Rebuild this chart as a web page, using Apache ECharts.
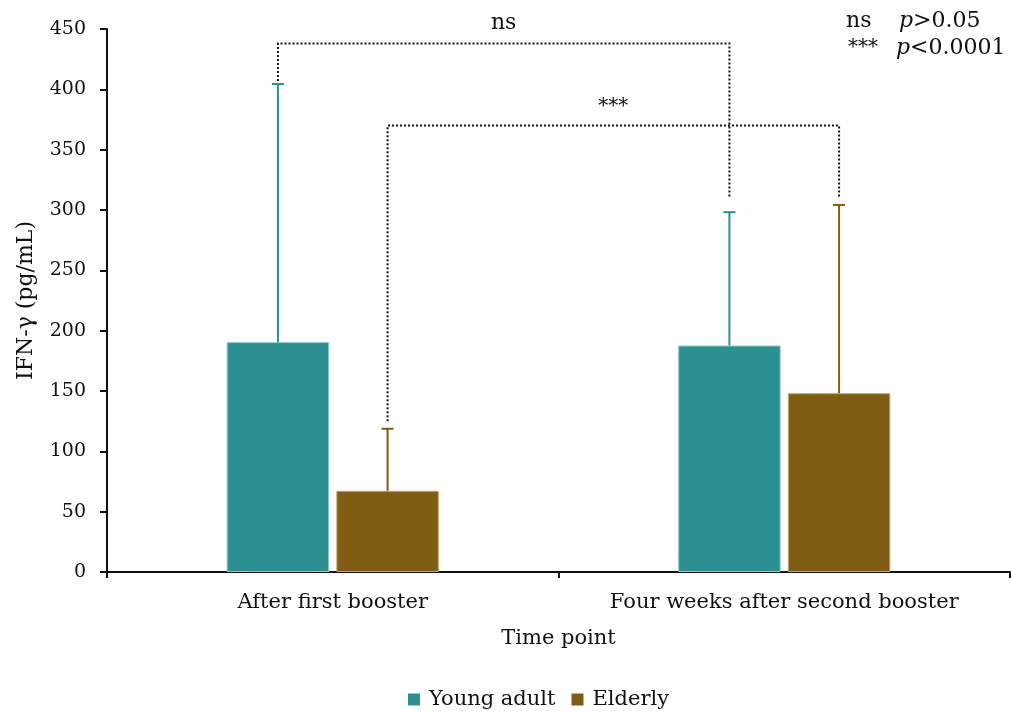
<!DOCTYPE html>
<html>
<head>
<meta charset="utf-8">
<script src="https://cdn.jsdelivr.net/npm/echarts@6/dist/echarts.min.js"></script>
<style>
  html, body { margin: 0; padding: 0; background: #fff; }
  #chart { width: 1011px; height: 711px; }
</style>
</head>
<body>
<div id="chart"></div>
<script>
// categories and groups
var timePoints = ['After first booster', 'Four weeks after second booster'];
var groupNames = ['Young adult', 'Elderly'];

// mean IFN-γ (pg/mL) and upper error bar end
var youngMean = [190.5, 187.7];
var elderlyMean = [67.3, 148.2];
var youngUpper = [404.4, 298.2];
var elderlyUpper = [118.7, 304.2];

// y ticks
var yMin = 0, yMax = 450, yStep = 50;

// significance brackets: [fromCategory, fromGroup, toCategory, toGroup, top, leftEnd, rightEnd]
var bracketLabels = ['ns', '***'];
var bracketSpecs = [
  [0, 0, 1, 0, 438, 407, 310],
  [0, 1, 1, 1, 370, 125, 311]
];

var colors = ['#2b908f', '#7f5d14'];
var font = 'DejaVu Serif';
var barPct = 0.227, gapPct = 0.07;

function groupOffset(band, g) {
  var bw = band * barPct;
  var half = bw * (1 + gapPct) / 2;
  return g === 0 ? -half : half;
}

var myChart = echarts.init(document.getElementById('chart'));

function errorSeries(name, upper, mean, g) {
  return {
    name: name + ' err',
    type: 'custom',
    z: 3,
    data: upper.map(function (u, i) { return [i, mean[i], u]; }),
    renderItem: function (params, api) {
      var band = api.size([1, 0])[0];
      var dx = groupOffset(band, g);
      var lo = api.coord([api.value(0), api.value(1)]);
      var hi = api.coord([api.value(0), api.value(2)]);
      var x = lo[0] + dx;
      var cap = 6;
      return {
        type: 'group',
        children: [
          { type: 'line', shape: { x1: x, y1: lo[1], x2: x, y2: hi[1] }, style: { stroke: colors[g], lineWidth: 2 } },
          { type: 'line', shape: { x1: x - cap, y1: hi[1], x2: x + cap, y2: hi[1] }, style: { stroke: colors[g], lineWidth: 2 } }
        ]
      };
    }
  };
}

var option = {
  animation: false,
  grid: { left: 107, right: 1, top: 29, bottom: 139, containLabel: false, outerBoundsMode: 'none' },
  legend: {
    data: groupNames,
    top: 684,
    left: 403,
    icon: 'rect',
    itemWidth: 12,
    itemHeight: 12,
    itemGap: 16,
    itemStyle: { borderWidth: 0 },
    textStyle: { fontFamily: font, fontSize: 21, color: '#111', padding: [0, 0, 0, 4] }
  },
  xAxis: {
    type: 'category',
    data: timePoints,
    name: 'Time point',
    nameLocation: 'middle',
    nameGap: 56,
    nameTextStyle: { fontFamily: font, fontSize: 21, color: '#111' },
    axisLine: { lineStyle: { color: '#111', width: 2 } },
    axisTick: { show: true, interval: 0, length: 6, lineStyle: { color: '#111', width: 2 } },
    axisLabel: { interval: 0, fontFamily: font, fontSize: 21, color: '#111', margin: 20 }
  },
  yAxis: {
    type: 'value',
    min: yMin,
    max: yMax,
    interval: yStep,
    name: 'IFN-γ (pg/mL)',
    nameLocation: 'middle',
    nameGap: 70,
    nameTextStyle: { fontFamily: font, fontSize: 22, color: '#111' },
    splitLine: { show: false },
    axisLine: { show: true, lineStyle: { color: '#111', width: 2 } },
    axisTick: { show: true, length: 7, lineStyle: { color: '#111', width: 2 } },
    axisLabel: { fontFamily: font, fontSize: 19, color: '#111', margin: 21 }
  },
  graphic: [
    { type: 'text', left: 846, top: 10, style: { text: 'ns', fontFamily: font, fontSize: 22, fill: '#111' } },
    { type: 'text', left: 899, top: 10, style: { text: '{i|p}>0.05', fontFamily: font, fontSize: 22, fill: '#111', rich: { i: { fontStyle: 'italic', fontFamily: font, fontSize: 22 } } } },
    { type: 'text', left: 848, top: 38, style: { text: '***', fontFamily: font, fontSize: 20, fill: '#111' } },
    { type: 'text', left: 896, top: 37, style: { text: '{i|p}<0.0001', fontFamily: font, fontSize: 22, fill: '#111', rich: { i: { fontStyle: 'italic', fontFamily: font, fontSize: 22 } } } }
  ],
  series: [
    {
      name: groupNames[0],
      type: 'bar',
      data: youngMean,
      barWidth: (barPct * 100) + '%',
      barGap: (gapPct * 100) + '%',
      itemStyle: { color: colors[0], borderColor: '#8fc9c8', borderWidth: 1 }
    },
    {
      name: groupNames[1],
      type: 'bar',
      data: elderlyMean,
      barWidth: (barPct * 100) + '%',
      barGap: (gapPct * 100) + '%',
      itemStyle: { color: colors[1], borderColor: '#c2a86a', borderWidth: 1 }
    },
    errorSeries(groupNames[0], youngUpper, youngMean, 0),
    errorSeries(groupNames[1], elderlyUpper, elderlyMean, 1),
    {
      name: 'brackets',
      type: 'custom',
      z: 4,
      data: bracketSpecs,
      renderItem: function (params, api) {
        var band = api.size([1, 0])[0];
        var i = params.dataIndex;
        var fromX = api.coord([api.value(0), 0])[0] + groupOffset(band, api.value(1));
        var toX = api.coord([api.value(2), 0])[0] + groupOffset(band, api.value(3));
        var topY = api.coord([0, api.value(4)])[1];
        var leftY = api.coord([0, api.value(5)])[1];
        var rightY = api.coord([0, api.value(6)])[1];
        return {
          type: 'group',
          children: [
            {
              type: 'polyline',
              shape: { points: [[fromX, leftY], [fromX, topY], [toX, topY], [toX, rightY]] },
              style: { stroke: '#111', lineWidth: 2, lineDash: [2, 2], fill: null }
            },
            {
              type: 'text',
              style: {
                text: bracketLabels[i],
                x: (fromX + toX) / 2,
                y: topY - 9,
                align: 'center',
                verticalAlign: 'bottom',
                fontFamily: font,
                fontSize: i === 0 ? 22 : 20,
                fill: '#111'
              }
            }
          ]
        };
      }
    }
  ]
};

myChart.setOption(option);
window.addEventListener('resize', function () {
  myChart.resize();
});
</script>
</body>
</html>
